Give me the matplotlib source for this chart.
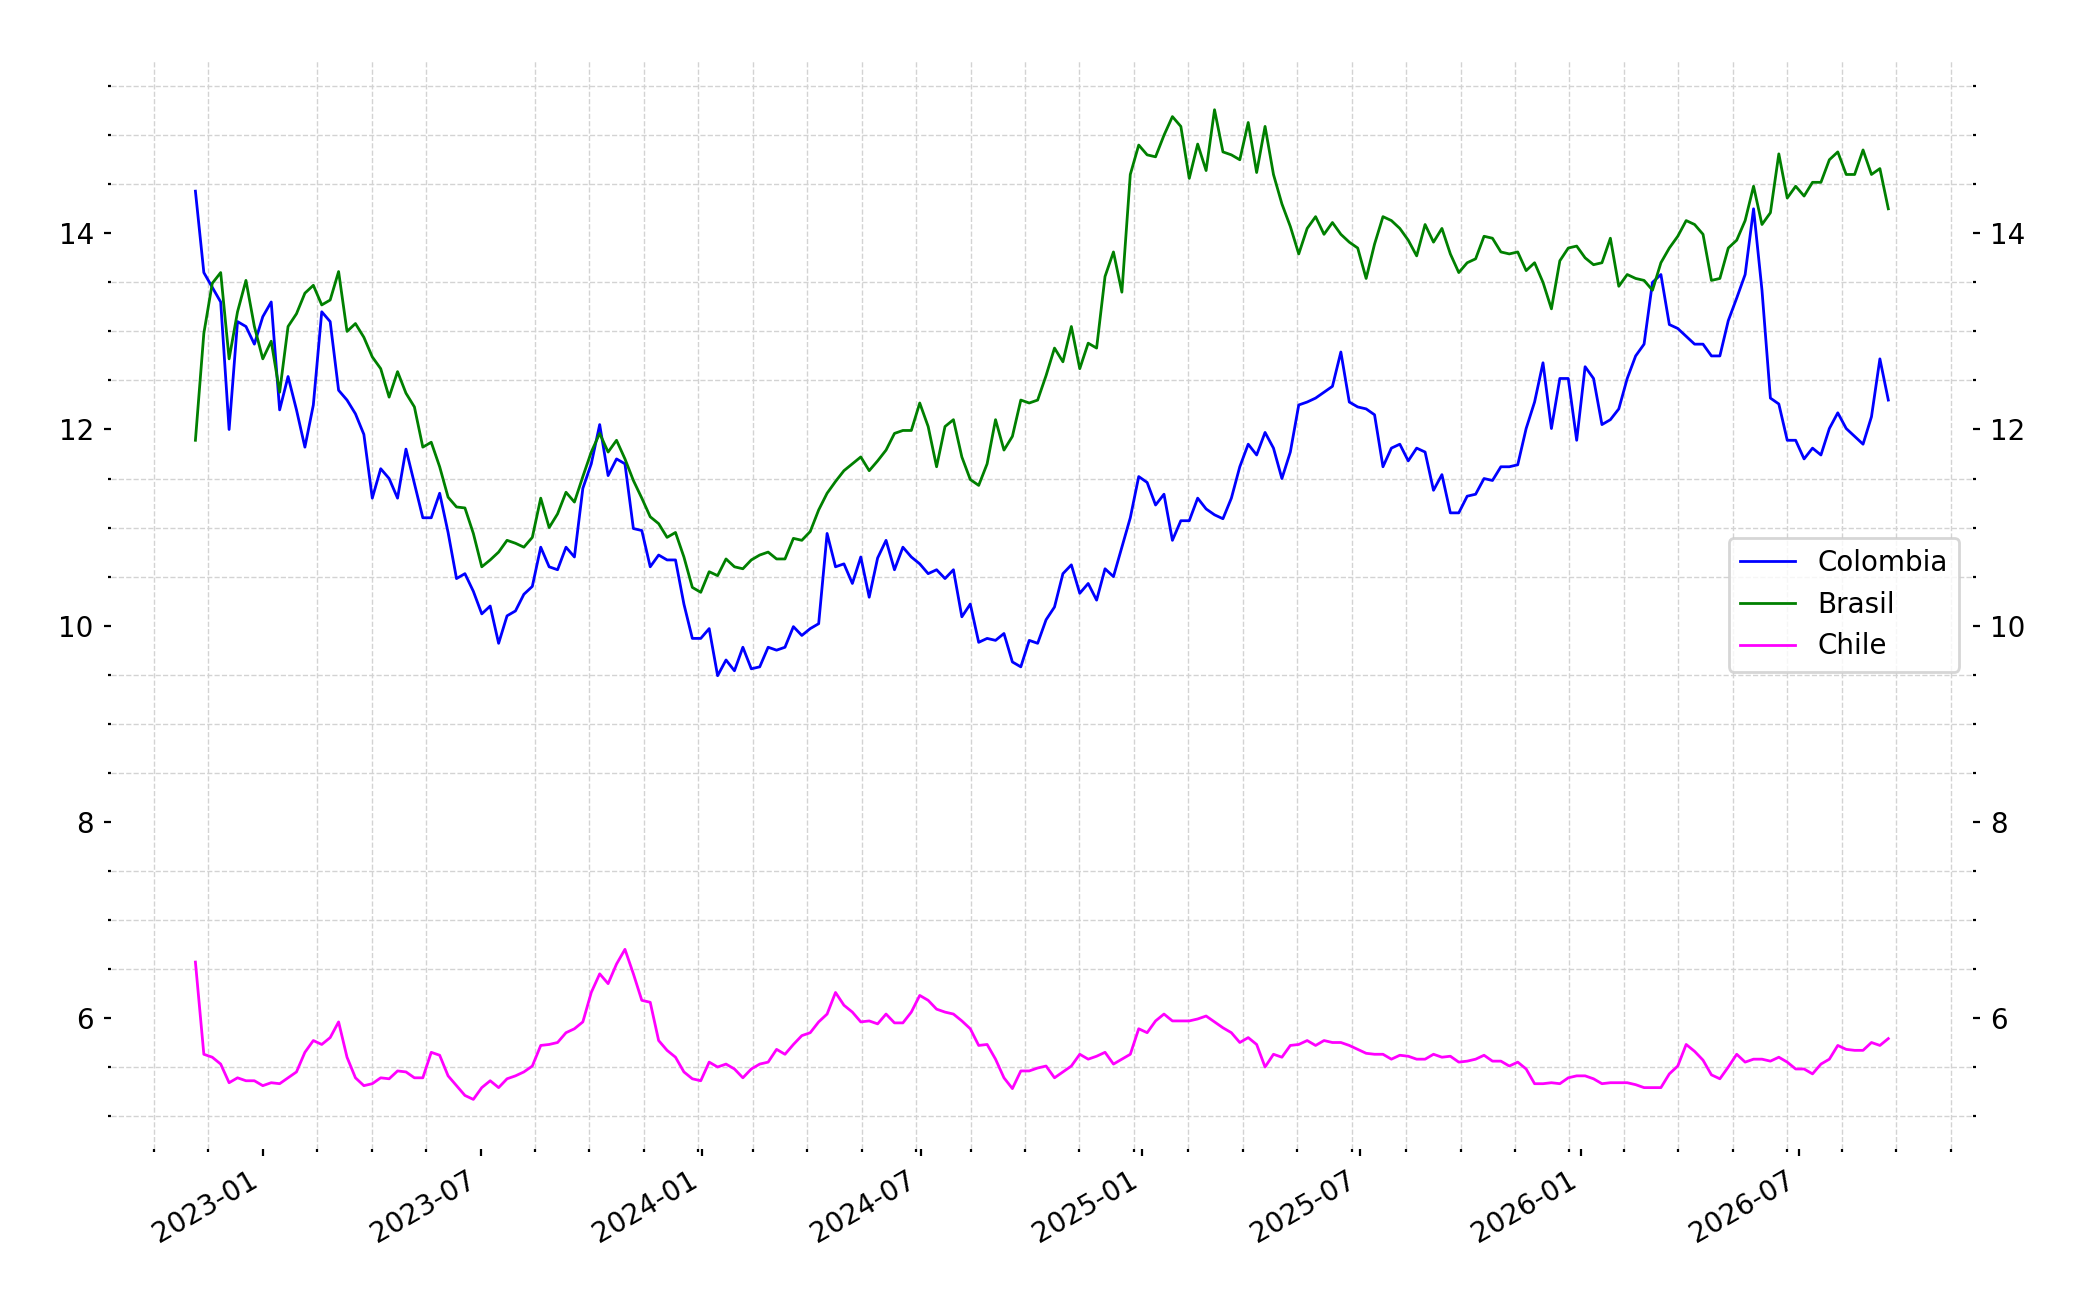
import pandas as pd
import matplotlib
matplotlib.use("Agg")
import matplotlib.pyplot as plt
from matplotlib.ticker import AutoMinorLocator

# weekly readings, starting 2022-11-06
start_date = "2022-11-06"

colombia = [
    14.43, 13.6, 13.45, 13.3, 12.0, 13.1, 13.05, 12.87, 13.15, 13.3,
    12.2, 12.54, 12.2, 11.82, 12.25, 13.2, 13.1, 12.4, 12.3, 12.16,
    11.95, 11.3, 11.6, 11.5, 11.3, 11.8, 11.45, 11.1, 11.1, 11.35,
    10.95, 10.48, 10.53, 10.35, 10.12, 10.2, 9.82, 10.1, 10.15, 10.32,
    10.4, 10.8, 10.6, 10.57, 10.8, 10.7, 11.4, 11.65, 12.05, 11.53,
    11.7, 11.65, 10.99, 10.97, 10.6, 10.72, 10.67, 10.67, 10.22, 9.87,
    9.87, 9.97, 9.49, 9.65, 9.54, 9.78, 9.56, 9.58, 9.78, 9.75,
    9.78, 9.99, 9.9, 9.97, 10.02, 10.94, 10.6, 10.63, 10.43, 10.7,
    10.29, 10.69, 10.87, 10.57, 10.8, 10.7, 10.63, 10.53, 10.57, 10.48,
    10.57, 10.09, 10.22, 9.83, 9.87, 9.85, 9.92, 9.63, 9.58, 9.85,
    9.82, 10.06, 10.19, 10.53, 10.62, 10.33, 10.43, 10.26, 10.58, 10.5,
    10.8, 11.1, 11.52, 11.46, 11.23, 11.34, 10.87, 11.07, 11.07, 11.3,
    11.19, 11.13, 11.09, 11.3, 11.62, 11.85, 11.74, 11.97, 11.81, 11.5,
    11.77, 12.25, 12.28, 12.32, 12.38, 12.44, 12.79, 12.28, 12.23, 12.21,
    12.15, 11.62, 11.81, 11.85, 11.68, 11.81, 11.77, 11.38, 11.54, 11.15,
    11.15, 11.32, 11.34, 11.5, 11.48, 11.62, 11.62, 11.64, 12.01, 12.28,
    12.68, 12.01, 12.52, 12.52, 11.89, 12.64, 12.52, 12.05, 12.1, 12.21,
    12.52, 12.75, 12.87, 13.5, 13.58, 13.07, 13.03, 12.95, 12.87, 12.87,
    12.75, 12.75, 13.11, 13.34, 13.58, 14.25, 13.42, 12.32, 12.26, 11.89,
    11.89, 11.7, 11.81, 11.74, 12.01, 12.17, 12.01, 11.93, 11.85, 12.13,
    12.72, 12.3,
]

brasil = [
    11.89, 12.98, 13.49, 13.6, 12.72, 13.2, 13.52, 13.05, 12.72, 12.9,
    12.38, 13.05, 13.18, 13.39, 13.47, 13.27, 13.32, 13.61, 13.0, 13.08,
    12.94, 12.74, 12.62, 12.33, 12.59, 12.37, 12.23, 11.82, 11.87, 11.62,
    11.31, 11.21, 11.2, 10.94, 10.6, 10.67, 10.75, 10.87, 10.84, 10.8,
    10.9, 11.3, 11.0, 11.14, 11.36, 11.26, 11.52, 11.77, 11.96, 11.77,
    11.89, 11.7, 11.48, 11.3, 11.11, 11.04, 10.9, 10.95, 10.7, 10.39,
    10.34, 10.55, 10.51, 10.68, 10.6, 10.58, 10.67, 10.72, 10.75, 10.68,
    10.68, 10.89, 10.87, 10.96, 11.18, 11.35, 11.47, 11.58, 11.65, 11.72,
    11.58, 11.68, 11.79, 11.96, 11.99, 11.99, 12.27, 12.03, 11.62, 12.03,
    12.1, 11.72, 11.49, 11.43, 11.65, 12.1, 11.79, 11.93, 12.3, 12.27,
    12.3, 12.55, 12.83, 12.69, 13.05, 12.62, 12.88, 12.83, 13.56, 13.81,
    13.4, 14.6, 14.9, 14.8, 14.78, 15.0, 15.19, 15.09, 14.56, 14.91,
    14.64, 15.26, 14.83, 14.8, 14.75, 15.13, 14.62, 15.09, 14.6, 14.3,
    14.07, 13.79, 14.05, 14.17, 13.99, 14.11, 13.99, 13.91, 13.85, 13.54,
    13.89, 14.17, 14.13, 14.05, 13.93, 13.77, 14.09, 13.91, 14.05, 13.79,
    13.6, 13.7, 13.74, 13.97, 13.95, 13.81, 13.79, 13.81, 13.62, 13.7,
    13.5, 13.23, 13.72, 13.85, 13.87, 13.75, 13.68, 13.7, 13.95, 13.46,
    13.58, 13.54, 13.52, 13.42, 13.7, 13.85, 13.97, 14.13, 14.09, 13.99,
    13.52, 13.54, 13.85, 13.93, 14.13, 14.48, 14.09, 14.21, 14.81, 14.36,
    14.48, 14.38, 14.52, 14.52, 14.75, 14.83, 14.6, 14.6, 14.85, 14.6,
    14.66, 14.25,
]

chile = [
    6.57, 5.63, 5.6, 5.53, 5.34, 5.39, 5.36, 5.36, 5.31, 5.34,
    5.33, 5.39, 5.45, 5.65, 5.77, 5.73, 5.8, 5.96, 5.6, 5.39,
    5.31, 5.33, 5.39, 5.38, 5.46, 5.45, 5.39, 5.39, 5.65, 5.62,
    5.41, 5.31, 5.21, 5.17, 5.29, 5.36, 5.29, 5.38, 5.41, 5.45,
    5.51, 5.72, 5.73, 5.75, 5.85, 5.89, 5.96, 6.26, 6.45, 6.35,
    6.55, 6.7, 6.45, 6.18, 6.16, 5.77, 5.67, 5.6, 5.45, 5.38,
    5.36, 5.55, 5.5, 5.53, 5.48, 5.39, 5.48, 5.53, 5.55, 5.68,
    5.63, 5.73, 5.82, 5.85, 5.96, 6.04, 6.26, 6.13, 6.06, 5.96,
    5.97, 5.94, 6.04, 5.95, 5.95, 6.06, 6.23, 6.18, 6.09, 6.06,
    6.04, 5.97, 5.89, 5.72, 5.73, 5.58, 5.39, 5.28, 5.46, 5.46,
    5.49, 5.51, 5.39, 5.45, 5.51, 5.63, 5.58, 5.61, 5.65, 5.53,
    5.58, 5.63, 5.89, 5.85, 5.97, 6.04, 5.97, 5.97, 5.97, 5.99,
    6.02, 5.96, 5.9, 5.85, 5.75, 5.8, 5.73, 5.5, 5.63, 5.6,
    5.72, 5.73, 5.77, 5.72, 5.77, 5.75, 5.75, 5.72, 5.68, 5.64,
    5.63, 5.63, 5.58, 5.62, 5.61, 5.58, 5.58, 5.63, 5.6, 5.61,
    5.55, 5.56, 5.58, 5.62, 5.56, 5.56, 5.51, 5.55, 5.48, 5.33,
    5.33, 5.34, 5.33, 5.39, 5.41, 5.41, 5.38, 5.33, 5.34, 5.34,
    5.34, 5.32, 5.29, 5.29, 5.29, 5.43, 5.51, 5.73, 5.66, 5.57,
    5.42, 5.38, 5.5, 5.63, 5.55, 5.58, 5.58, 5.56, 5.6, 5.55,
    5.48, 5.48, 5.43, 5.53, 5.58, 5.72, 5.68, 5.67, 5.67, 5.75,
    5.72, 5.79,
]

dates = pd.date_range(start_date, periods=len(colombia), freq="7D")

fig, ax = plt.subplots(figsize=(10.45, 6.55), dpi=200)

ax.plot(dates, colombia, color="blue", linewidth=1.0, label="Colombia")
ax.plot(dates, brasil, color="green", linewidth=1.0, label="Brasil")
ax.plot(dates, chile, color="magenta", linewidth=1.0, label="Chile")

ax.xaxis.set_minor_locator(AutoMinorLocator())
ax.yaxis.set_minor_locator(AutoMinorLocator())

# only the minor grid is drawn
ax.grid(which="minor", linestyle="--", linewidth=0.5, color="lightgray")

for side in ["top", "bottom", "left", "right"]:
    ax.spines[side].set_visible(False)

ax.tick_params(axis="y", which="both", left=True, right=True, labelleft=True, labelright=True)
ax.tick_params(which="major", length=2.6, width=0.8, labelsize=10)
ax.tick_params(which="minor", length=1.2, width=0.8)

ax.legend(loc="center right")

fig.autofmt_xdate()
plt.subplots_adjust(left=0.053, right=0.944, top=0.954, bottom=0.123)
plt.savefig("out.png", dpi=200)
